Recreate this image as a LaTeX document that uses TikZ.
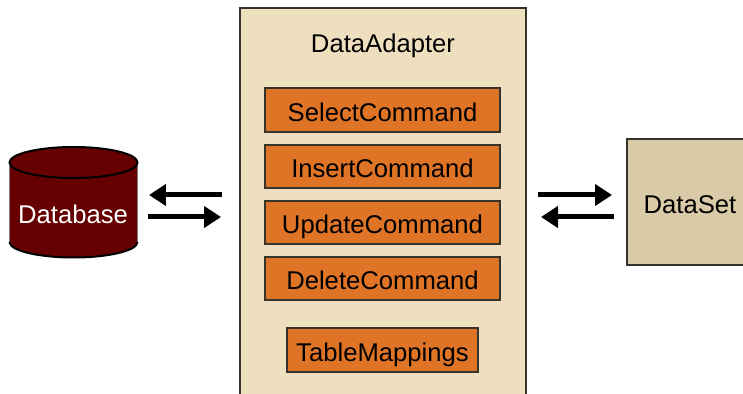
\documentclass[tikz,border=0pt]{standalone}
\usepackage{fontspec}
\setmainfont{Liberation Sans}
\usetikzlibrary{arrows.meta}
\definecolor{mytan1}{RGB}{238, 223, 191}
\definecolor{mytan2}{RGB}{217, 203, 168}
\definecolor{myorange}{RGB}{224, 116, 38}
\definecolor{myred}{RGB}{102, 0, 0}
\definecolor{myedge}{RGB}{55, 50, 42}
\tikzset{>={Triangle[length=0.34cm, width=0.42cm]}}
\tikzset{bigarrow/.style={->, line width=0.1cm, black}}
\tikzset{lab/.style={font=\fontsize{14.6}{17}\selectfont, inner sep=0pt, anchor=base}}
\tikzset{box/.style={draw=myedge, line width=0.04cm, inner sep=0pt, font=\fontsize{14.6}{17}\selectfont}}
\tikzset{cmd/.style={box, fill=myorange, minimum height=0.87cm, minimum width=4.7cm, text height=0.46cm, text depth=0cm}}

\begin{document}
\begin{tikzpicture}[x=0.02cm, y=-0.02cm]
\useasboundingbox (0, 0) rectangle (743, 394);
\clip (0, 0) rectangle (743, 394);

\node[box, fill=mytan1, minimum width=5.71cm, minimum height=9cm] (adapter) at (383, 233) {};
\node[lab] (title) at (383, 52.5) {DataAdapter};

\node[cmd] (select) at (382.5, 110) {SelectCommand};
\node[cmd] (insert) at (382.5, 166.5) {InsertCommand};
\node[cmd] (update) at (382.5, 222.5) {UpdateCommand};
\node[cmd] (delete) at (382.5, 278.5) {DeleteCommand};
\node[cmd, minimum width=3.84cm] (mappings) at (382.5, 350) {TableMappings};

\node[box, fill=mytan2, minimum width=2.5cm, minimum height=2.52cm] (dataset) at (689.5, 202) {};
\node[lab] (setlabel) at (690, 213.5) {DataSet};

\fill[myred] (9.5, 162.5) arc[start angle=180, end angle=360, x radius=64, y radius=-15.5] -- (137.5, 242)
  arc[start angle=0, end angle=180, x radius=64, y radius=15.5] -- cycle;
\draw[gray, line width=0.02cm] (9.5, 162.5) -- (9.5, 242);
\draw[gray, line width=0.02cm] (137.5, 162.5) -- (137.5, 242);
\draw[line width=0.04cm] (9.5, 242) arc[start angle=180, end angle=360, x radius=64, y radius=-15.5];
\draw[line width=0.04cm, fill=myred] (73.5, 162.5) ellipse[x radius=64, y radius=15.5];
\node[lab, white] (database) at (73, 223.5) {Database};

\coordinate (leftup) at (222, 195);
\coordinate (leftupend) at (149, 195);
\coordinate (leftdown) at (148, 217);
\coordinate (leftdownend) at (221, 217);
\coordinate (rightup) at (538, 195);
\coordinate (rightupend) at (612, 195);
\coordinate (rightdown) at (614, 217);
\coordinate (rightdownend) at (541, 217);

\draw[bigarrow] (leftup) -- (leftupend);
\draw[bigarrow] (leftdown) -- (leftdownend);
\draw[bigarrow] (rightup) -- (rightupend);
\draw[bigarrow] (rightdown) -- (rightdownend);
\end{tikzpicture}
\end{document}
